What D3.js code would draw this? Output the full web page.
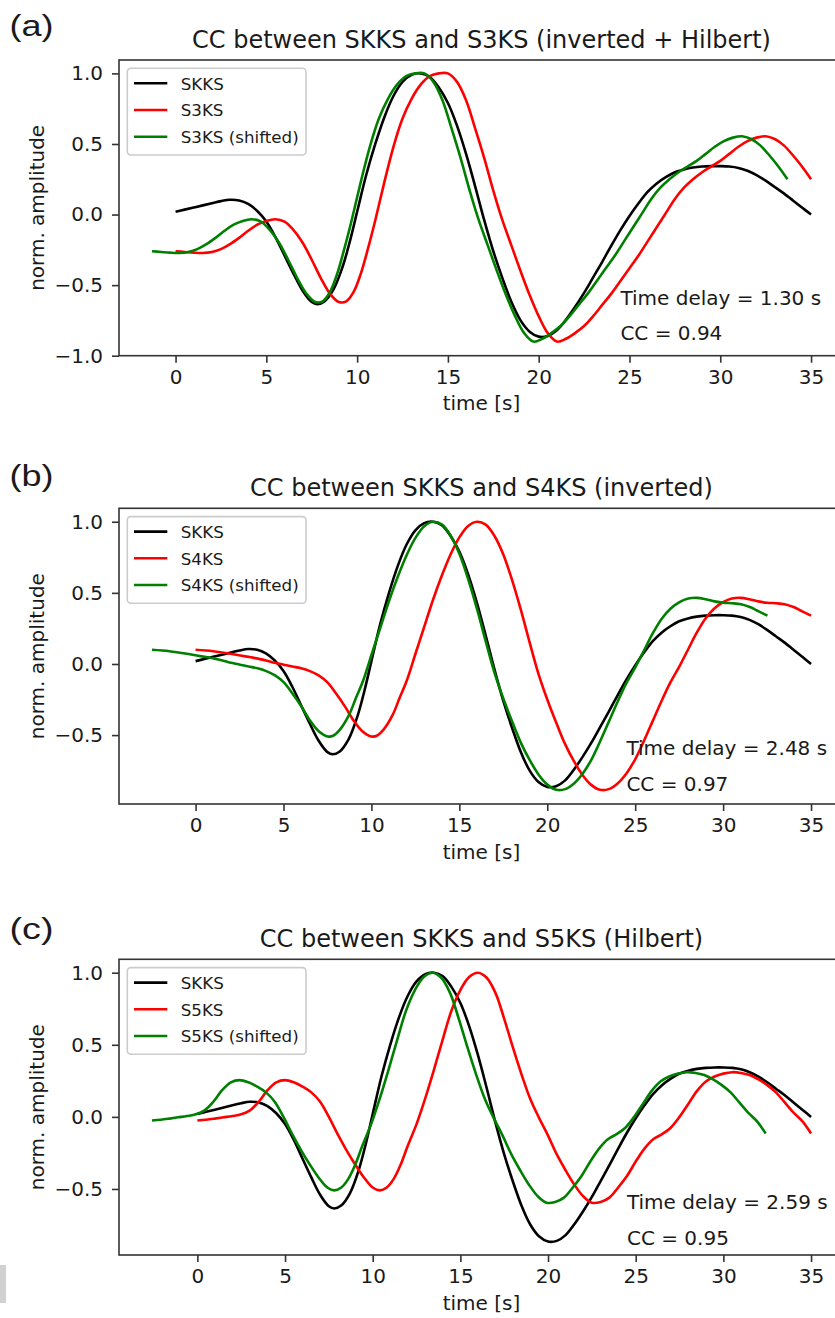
<!DOCTYPE html>
<html><head><meta charset="utf-8">
<script src="https://cdn.jsdelivr.net/npm/d3@7"></script>
<style>
html,body{margin:0;padding:0;background:#fff;}
svg{display:block;}
</style></head><body>
<svg id="chart" width="835" height="1318"></svg>
<script>
// ---------------- data ----------------
const timeTicks = [0, 5, 10, 15, 20, 25, 30, 35];
const ampTicksA = [-1.0, -0.5, 0.0, 0.5, 1.0];
const ampTicksBC = [-0.5, 0.0, 0.5, 1.0];

const skks = [[0,0.02],[0.5,0.035],[1,0.05],[1.5,0.065],[2,0.08],[2.5,0.095],[3,0.105],[3.5,0.1],[4,0.075],[4.5,0.025],[5,-0.05],[5.5,-0.16],[6,-0.29],[6.5,-0.42],[7,-0.54],[7.5,-0.62],[7.8,-0.635],[8.2,-0.615],[8.7,-0.53],[9.2,-0.37],[9.6,-0.19],[10,0.02],[10.5,0.28],[11,0.5],[11.5,0.69],[12,0.84],[12.5,0.94],[13,0.99],[13.5,1.0],[14,0.975],[14.5,0.9],[15,0.79],[15.5,0.63],[16,0.43],[16.5,0.2],[17,-0.04],[17.5,-0.26],[18,-0.45],[18.5,-0.62],[19,-0.75],[19.5,-0.83],[20,-0.865],[20.5,-0.86],[21,-0.82],[21.5,-0.745],[22,-0.655],[22.5,-0.555],[23,-0.445],[23.5,-0.335],[24,-0.22],[24.5,-0.11],[25,-0.01],[25.5,0.08],[26,0.16],[26.5,0.22],[27,0.265],[27.5,0.3],[28,0.32],[28.5,0.333],[29,0.34],[29.5,0.343],[30,0.343],[30.5,0.34],[31,0.33],[31.5,0.31],[32,0.28],[32.5,0.24],[33,0.195],[33.5,0.15],[34,0.1],[34.5,0.05],[35,0.0]];

const s3ks = [[0,-0.26],[0.5,-0.265],[1,-0.27],[1.5,-0.272],[2,-0.265],[2.5,-0.245],[3,-0.21],[3.5,-0.165],[4,-0.115],[4.5,-0.072],[5,-0.045],[5.5,-0.033],[6,-0.05],[6.5,-0.11],[7,-0.2],[7.5,-0.32],[8,-0.45],[8.5,-0.56],[9,-0.62],[9.4,-0.615],[9.8,-0.55],[10.2,-0.42],[10.6,-0.24],[11,-0.04],[11.5,0.23],[12,0.48],[12.5,0.68],[13,0.82],[13.5,0.92],[14,0.98],[14.5,1.0],[15,1.0],[15.5,0.94],[16,0.81],[16.5,0.61],[17,0.4],[17.5,0.17],[18,-0.04],[18.5,-0.22],[19,-0.4],[19.5,-0.57],[20,-0.72],[20.5,-0.84],[21,-0.9],[21.5,-0.88],[22,-0.84],[22.5,-0.79],[23,-0.72],[23.5,-0.64],[24,-0.56],[24.5,-0.47],[25,-0.38],[25.5,-0.29],[26,-0.19],[26.5,-0.09],[27,0.01],[27.5,0.11],[28,0.19],[28.5,0.25],[29,0.3],[29.5,0.34],[30,0.38],[30.5,0.43],[31,0.48],[31.5,0.52],[32,0.545],[32.5,0.555],[33,0.535],[33.5,0.49],[34,0.42],[34.5,0.34],[35,0.25]];

const s4ks = [[0,0.1],[1,0.09],[2,0.072],[3,0.05],[4,0.025],[4.5,0.008],[5,-0.005],[5.5,-0.018],[6,-0.03],[6.5,-0.05],[7,-0.08],[7.5,-0.13],[8,-0.21],[8.5,-0.3],[9,-0.4],[9.5,-0.475],[10,-0.51],[10.3,-0.505],[10.7,-0.46],[11.2,-0.36],[11.6,-0.24],[12,-0.12],[12.5,0.07],[13,0.26],[13.5,0.45],[14,0.62],[14.5,0.77],[15,0.89],[15.5,0.97],[16,1.0],[16.5,0.98],[17,0.9],[17.5,0.77],[18,0.59],[18.5,0.38],[19,0.15],[19.5,-0.07],[20,-0.25],[20.5,-0.41],[21,-0.56],[21.5,-0.68],[22,-0.78],[22.5,-0.85],[23,-0.885],[23.5,-0.88],[24,-0.84],[24.5,-0.77],[25,-0.67],[25.5,-0.54],[26,-0.4],[26.5,-0.26],[27,-0.13],[27.5,-0.02],[28,0.1],[28.5,0.22],[29,0.32],[29.5,0.39],[30,0.435],[30.5,0.46],[31,0.465],[31.5,0.455],[32,0.44],[32.5,0.43],[33,0.427],[33.5,0.42],[34,0.4],[34.5,0.37],[35,0.34]];

const s5ks = [[0,-0.025],[0.5,-0.02],[1,-0.012],[1.5,-0.003],[2,0.006],[2.5,0.018],[3,0.045],[3.5,0.105],[4,0.185],[4.5,0.24],[5,0.255],[5.5,0.24],[6,0.21],[6.5,0.17],[7,0.105],[7.5,0.0],[8,-0.12],[8.5,-0.23],[9,-0.33],[9.5,-0.42],[10,-0.49],[10.4,-0.51],[10.8,-0.49],[11.2,-0.43],[11.6,-0.33],[12,-0.2],[12.5,-0.05],[13,0.13],[13.5,0.33],[14,0.54],[14.5,0.74],[15,0.88],[15.5,0.97],[16,1.0],[16.5,0.965],[17,0.86],[17.5,0.68],[18,0.48],[18.5,0.29],[19,0.12],[19.5,-0.01],[20,-0.13],[20.5,-0.26],[21,-0.37],[21.5,-0.47],[22,-0.55],[22.5,-0.595],[23,-0.59],[23.5,-0.56],[24,-0.49],[24.5,-0.41],[25,-0.31],[25.5,-0.22],[26,-0.155],[26.5,-0.12],[27,-0.075],[27.5,0.0],[28,0.09],[28.5,0.18],[29,0.245],[29.5,0.28],[30,0.3],[30.5,0.31],[31,0.305],[31.5,0.29],[32,0.26],[32.5,0.22],[33,0.17],[33.5,0.1],[34,0.03],[34.5,-0.03],[35,-0.115]];

const panelLabels = ["(a)", "(b)", "(c)"];
const panelTitles = ["CC between SKKS and S3KS (inverted + Hilbert)", "CC between SKKS and S4KS (inverted)", "CC between SKKS and S5KS (Hilbert)"];
const phaseNames = ["S3KS", "S4KS", "S5KS"];
const phaseData = [s3ks, s4ks, s5ks];
const timeDelays = [1.30, 2.48, 2.59];
const ccValues = [0.94, 0.97, 0.95];
const ampDomains = [[-1.0, 1.095], [-0.9845, 1.0945], [-0.958, 1.093]];
const ampTickSets = [ampTicksA, ampTicksBC, ampTicksBC];
const annotAt = [24.5, -0.64, -0.89];

// ---------------- layout / style ----------------
const FONT = "'DejaVu Sans', sans-serif";
const TXT = "#1a1a1a";
const colors = { ref: "#000000", orig: "#ff0000", shifted: "#008000" };
const left = 119, right = 844, axH = 295.7;
const tops = [60, 508.3, 959.3];
const labelBaselines = [36, 486, 939.3];

const svg = d3.select("#chart");
svg.append("rect").attr("width", 835).attr("height", 1318).attr("fill", "#fff");

const fmtAmp = v => d3.format(".1f")(v).replace("-", "\u2212");

phaseData.forEach((data, i) => {
  const top = tops[i], bottom = top + axH;
  const shifted = data.map(([t, v]) => [t - timeDelays[i], v]);
  const [t0, t1] = d3.extent([...skks, ...data, ...shifted], d => d[0]);
  const pad = (t1 - t0) * 0.05;
  const x = d3.scaleLinear().domain([t0 - pad, t1 + pad]).range([left, right]);
  const y = d3.scaleLinear().domain(ampDomains[i]).range([bottom, top]);
  const g = svg.append("g");

  const line = d3.line().x(d => x(d[0])).y(d => y(d[1])).curve(d3.curveCatmullRom.alpha(0.5));
  const series = [
    { name: "SKKS", data: skks, color: colors.ref },
    { name: phaseNames[i], data: data, color: colors.orig },
    { name: phaseNames[i] + " (shifted)", data: shifted, color: colors.shifted }
  ];
  g.selectAll("path.trace").data(series).join("path")
    .attr("class", "trace")
    .attr("d", d => line(d.data))
    .attr("fill", "none")
    .attr("stroke", d => d.color)
    .attr("stroke-width", 2.6)
    .attr("stroke-linejoin", "round");

  // spines
  g.append("rect").attr("x", left).attr("y", top).attr("width", right - left).attr("height", axH)
    .attr("fill", "none").attr("stroke", "#333").attr("stroke-width", 1.6);

  // x axis
  const xa = g.append("g").attr("transform", `translate(0,${bottom})`)
    .call(d3.axisBottom(x).tickValues(timeTicks).tickFormat(d3.format("d")).tickSize(7).tickPadding(7).tickSizeOuter(0));
  xa.select(".domain").remove();
  xa.selectAll(".tick line").attr("stroke", "#333").attr("stroke-width", 1.6);
  xa.selectAll(".tick text").attr("font-family", FONT).attr("font-size", 20).attr("fill", TXT);

  // y axis
  const ya = g.append("g").attr("transform", `translate(${left},0)`)
    .call(d3.axisLeft(y).tickValues(ampTickSets[i]).tickFormat(fmtAmp).tickSize(7).tickPadding(9).tickSizeOuter(0));
  ya.select(".domain").remove();
  ya.selectAll(".tick line").attr("stroke", "#333").attr("stroke-width", 1.6);
  ya.selectAll(".tick text").attr("font-family", FONT).attr("font-size", 20).attr("fill", TXT);

  // axis labels
  g.append("text").attr("x", (left + right) / 2).attr("y", bottom + 54.5)
    .attr("text-anchor", "middle").attr("font-family", FONT).attr("font-size", 20).attr("fill", TXT)
    .text("time [s]");
  g.append("text").attr("transform", `translate(44,${(top + bottom) / 2}) rotate(-90)`)
    .attr("text-anchor", "middle").attr("font-family", FONT).attr("font-size", 20).attr("fill", TXT)
    .text("norm. amplitude");

  // title
  g.append("text").attr("x", (left + right) / 2).attr("y", top - 12.5)
    .attr("text-anchor", "middle").attr("font-family", FONT).attr("font-size", 24).attr("fill", TXT)
    .text(panelTitles[i]);

  // panel label
  svg.append("text").attr("x", 9.5).attr("y", labelBaselines[i])
    .attr("font-family", "'Liberation Sans', Arial, sans-serif").attr("font-size", 29).attr("fill", TXT)
    .attr("textLength", 44).attr("lengthAdjust", "spacingAndGlyphs")
    .text(panelLabels[i]);

  // annotation
  const ax = x(annotAt[0]);
  g.append("text").attr("x", ax).attr("y", y(annotAt[1]))
    .attr("font-family", FONT).attr("font-size", 20).attr("fill", TXT)
    .text(`Time delay = ${timeDelays[i].toFixed(2)} s`);
  g.append("text").attr("x", ax).attr("y", y(annotAt[2]))
    .attr("font-family", FONT).attr("font-size", 20).attr("fill", TXT)
    .text(`CC = ${ccValues[i].toFixed(2)}`);

  // legend
  const lg = g.append("g").attr("transform", `translate(${left + 8.3},${top + 8.3})`);
  lg.append("rect").attr("width", 178.7).attr("height", 86.7).attr("rx", 3.5)
    .attr("fill", "#fff").attr("fill-opacity", 0.8).attr("stroke", "#cccccc").attr("stroke-width", 1.6);
  const rows = lg.selectAll("g.row").data(series).join("g").attr("class", "row")
    .attr("transform", (d, k) => `translate(0,${15 + k * 26.7})`);
  rows.append("line").attr("x1", 6.7).attr("x2", 40).attr("y1", 0).attr("y2", 0)
    .attr("stroke", d => d.color).attr("stroke-width", 2.6);
  rows.append("text").attr("x", 53.4).attr("y", 6.2)
    .attr("font-family", FONT).attr("font-size", 16.7).attr("fill", TXT)
    .text(d => d.name);
});

// small grey artefact at the lower left edge
svg.append("rect").attr("x", 0).attr("y", 1265).attr("width", 6).attr("height", 38).attr("fill", "#d0d0d0");
</script>
</body></html>
